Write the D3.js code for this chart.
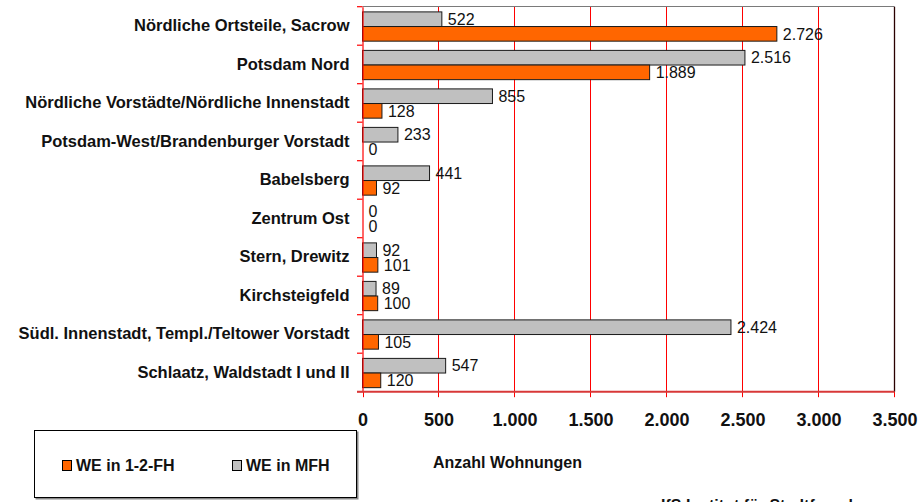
<!DOCTYPE html>
<html><head><meta charset="utf-8">
<script src="https://cdn.jsdelivr.net/npm/d3@7"></script>
<style>
html,body{margin:0;padding:0;background:#fff;overflow:hidden}
svg{display:block;font-family:"Liberation Sans",Arial,sans-serif}
</style></head>
<body>
<svg id="c" width="923" height="502"></svg>
<script>
const categories = ["Nördliche Ortsteile, Sacrow","Potsdam Nord","Nördliche Vorstädte/Nördliche Innenstadt","Potsdam-West/Brandenburger Vorstadt","Babelsberg","Zentrum Ost","Stern, Drewitz","Kirchsteigfeld","Südl. Innenstadt, Templ./Teltower Vorstadt","Schlaatz, Waldstadt I und II"];
const weMFH = [522,2516,855,233,441,0,92,89,2424,547];
const weEFH = [2726,1889,128,0,92,0,101,100,105,120];
const xTicks = [0,500,1000,1500,2000,2500,3000,3500];
const seriesNames = ["WE in 1-2-FH","WE in MFH"];
const axisTitle = "Anzahl Wohnungen";
const sourceText = "IfS Institut für Stadtforschung";

const loc = d3.formatLocale({decimal:",",thousands:".",grouping:[3],currency:["","€"]});
const fmt = loc.format(",d");

const svg = d3.select("#c");
const L = 362.5, R = 894.5, T = 6.7, B = 391.7;
const x = d3.scaleLinear().domain([0,3500]).range([L,R]);
const y = d3.scaleBand().domain(categories).range([T,B]).padding(0);
const bw = y.bandwidth();
const off = bw*0.135, bh = bw*0.38;
const px = v => Math.round(x(v)) + 0.5;

// gridlines (inner ones) and tick marks below the axis
svg.append("g").selectAll("line").data(xTicks.slice(1,-1)).join("line")
  .attr("x1",d=>px(d)-1).attr("x2",d=>px(d)-1).attr("y1",T).attr("y2",B+5.5)
  .attr("stroke","#ff0000").attr("stroke-width",1);
svg.append("g").selectAll("line").data([xTicks[0],xTicks[xTicks.length-1]]).join("line")
  .attr("x1",d=>px(d)-(d>0?1:0)).attr("x2",d=>px(d)-(d>0?1:0)).attr("y1",B).attr("y2",B+5.5).attr("stroke","#ff0000");

// top border & right border
svg.append("line").attr("x1",L).attr("x2",R).attr("y1",6.5).attr("y2",6.5).attr("stroke","#7a7a7a").attr("stroke-width",1.2);
svg.append("line").attr("x1",px(3500)-1).attr("x2",px(3500)-1).attr("y1",T).attr("y2",B).attr("stroke","#2a0000").attr("stroke-width",1.3);

// bars
const gb = svg.append("g");
gb.selectAll("rect.mfh").data(categories).join("rect").attr("class","mfh")
  .attr("x",x(0)).attr("y",(d)=>y(d)+off).attr("width",(d,i)=>Math.max(0,x(weMFH[i])-x(0)))
  .attr("height",bh).attr("fill","#c0c0c0").attr("stroke","#1a1a1a").attr("stroke-width",1)
  .style("display",(d,i)=>weMFH[i]>0?null:"none");
gb.selectAll("rect.efh").data(categories).join("rect").attr("class","efh")
  .attr("x",x(0)).attr("y",(d)=>y(d)+off+bh).attr("width",(d,i)=>Math.max(0,x(weEFH[i])-x(0)))
  .attr("height",bh).attr("fill","#ff6600").attr("stroke","#1a1a1a").attr("stroke-width",1)
  .style("display",(d,i)=>weEFH[i]>0?null:"none");

// value labels
const gl = svg.append("g").attr("font-size","16px").attr("fill","#111");
gl.selectAll("text.m").data(categories).join("text").attr("class","m")
  .attr("x",(d,i)=>x(weMFH[i])+6).attr("y",d=>y(d)+off+bh/2).attr("dy","0.36em")
  .text((d,i)=>fmt(weMFH[i]));
gl.selectAll("text.e").data(categories).join("text").attr("class","e")
  .attr("x",(d,i)=>x(weEFH[i])+6).attr("y",d=>y(d)+off+bh*1.5).attr("dy","0.36em")
  .text((d,i)=>fmt(weEFH[i]));

// left axis
const ya = svg.append("g").attr("transform",`translate(${L},0)`)
  .call(d3.axisLeft(y).tickSize(0).tickPadding(13));
ya.select(".domain").attr("stroke","#ff0000").attr("stroke-width",1.2);
ya.selectAll("text").attr("font-size","16.5px").attr("font-weight","bold").attr("fill","#111")
  .attr("font-family","'Liberation Sans',Arial,sans-serif");
const bounds = categories.map(c=>y(c)).concat([B]);
svg.append("g").selectAll("line").data(bounds).join("line")
  .attr("x1",L-5.5).attr("x2",L).attr("y1",d=>d).attr("y2",d=>d).attr("stroke","#ff0000").attr("stroke-width",1.2);

// bottom axis
const xa = svg.append("g").attr("transform",`translate(0,${B})`)
  .call(d3.axisBottom(x).tickValues(xTicks).tickSize(0).tickPadding(22).tickFormat(fmt));
xa.select(".domain").remove();
xa.selectAll("text").attr("font-size","18px").attr("font-weight","bold").attr("fill","#111")
  .attr("font-family","'Liberation Sans',Arial,sans-serif");
svg.append("line").attr("x1",L-5.5).attr("x2",R).attr("y1",B).attr("y2",B).attr("stroke","#d83838").attr("stroke-width",2);

// axis title
svg.append("text").attr("x",433).attr("y",462.5).attr("dy","0.36em").attr("font-size","16px")
  .attr("font-weight","bold").attr("fill","#111").text(axisTitle);

// legend
svg.append("rect").attr("x",35.5).attr("y",431.5).attr("width",323).attr("height",68).attr("fill","#888");
const lg = svg.append("g");
lg.append("rect").attr("x",34.5).attr("y",430.5).attr("width",322).attr("height",67).attr("fill","#fff").attr("stroke","#000");
const legColors = ["#ff6600","#c0c0c0"];
const legX = [62,232];
seriesNames.forEach((n,i)=>{
  lg.append("rect").attr("x",legX[i]+0.5).attr("y",460.5).attr("width",9).attr("height",10)
    .attr("fill",legColors[i]).attr("stroke","#000");
  lg.append("text").attr("x",legX[i]+14).attr("y",465.5).attr("dy","0.36em").attr("font-size","16px")
    .attr("font-weight","bold").attr("fill","#111").text(n);
});

// source (cut off at bottom edge, as in the reference)
svg.append("text").attr("x",661).attr("y",511).attr("font-size","16px").attr("font-weight","bold")
  .attr("fill","#111").text(sourceText);
</script>
</body></html>
